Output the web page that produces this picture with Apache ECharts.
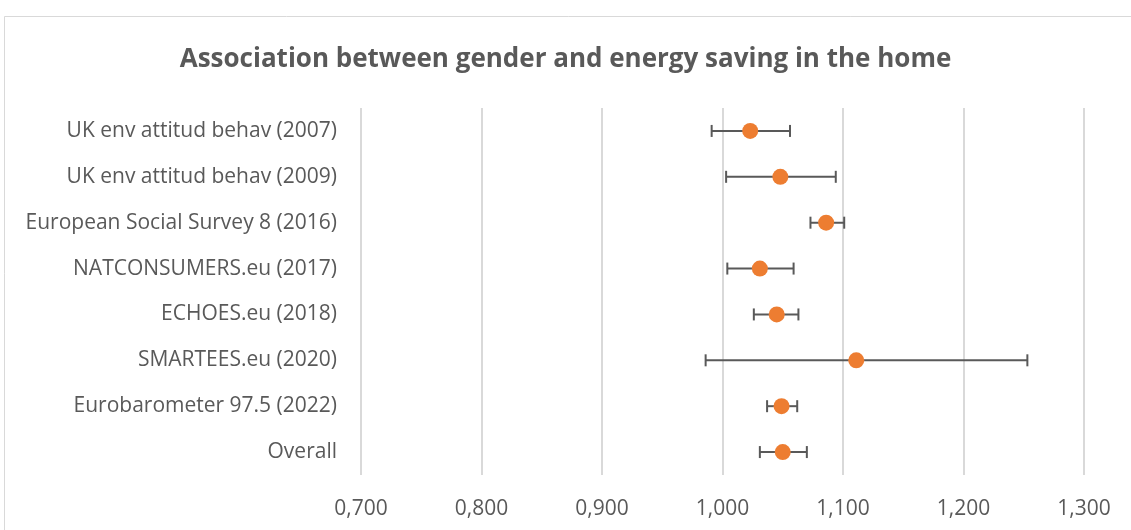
<!DOCTYPE html>
<html>
<head>
<meta charset="utf-8">
<script src="https://cdn.jsdelivr.net/npm/echarts@6/dist/echarts.min.js"></script>
<style>
html,body{margin:0;padding:0;background:#fff;}
#chart{width:1131px;height:530px;}
</style>
</head>
<body>
<div id="chart"></div>
<script>
const categories = [
  "UK env attitud behav (2007)",
  "UK env attitud behav (2009)",
  "European Social Survey 8 (2016)",
  "NATCONSUMERS.eu (2017)",
  "ECHOES.eu (2018)",
  "SMARTEES.eu (2020)",
  "Eurobarometer 97.5 (2022)",
  "Overall"
];
const estimates = [1.023, 1.048, 1.086, 1.031, 1.045, 1.111, 1.049, 1.050];
const lowerCI   = [0.991, 1.003, 1.073, 1.004, 1.026, 0.986, 1.037, 1.031];
const upperCI   = [1.056, 1.094, 1.101, 1.059, 1.063, 1.253, 1.062, 1.070];
const xTicks = [0.7, 0.8, 0.9, 1.0, 1.1, 1.2, 1.3];

const FONT = "'Open Sans', 'Noto Sans', sans-serif";
const TXT = '#595959';

const chart = echarts.init(document.getElementById('chart'), null, {renderer: 'canvas'});
const errData = categories.map((c, i) => [lowerCI[i], upperCI[i], i]);
const ptData = categories.map((c, i) => [estimates[i], i]);

chart.setOption({
  animation: false,
  backgroundColor: '#fff',
  graphic: [{
    type: 'rect', silent: true, z: -10,
    shape: {x: 4.5, y: 16.5, width: 1200, height: 600},
    style: {fill: '#fff', stroke: '#d9d9d9', lineWidth: 1}
  }],
  title: {
    text: 'Association between gender and energy saving in the home',
    left: 'center', top: 42,
    textStyle: {fontFamily: FONT, fontSize: 26, fontWeight: 'bold', color: TXT}
  },
  grid: {left: 361, right: 47, top: 108, bottom: 55, containLabel: false},
  xAxis: {
    type: 'value', min: xTicks[0], max: xTicks[xTicks.length - 1], interval: 0.1,
    axisLine: {show: false}, axisTick: {show: false},
    splitLine: {show: true, lineStyle: {color: '#d9d9d9', width: 2}},
    axisLabel: {
      margin: 24, color: TXT, fontFamily: FONT, fontSize: 21,
      formatter: v => v.toFixed(3).replace('.', ',')
    }
  },
  yAxis: {
    type: 'category', data: categories, inverse: true,
    axisLine: {show: false}, axisTick: {show: false}, splitLine: {show: false},
    axisLabel: {margin: 24, color: TXT, fontFamily: FONT, fontSize: 21, padding: [3, 0, 0, 0]}
  },
  series: [{
    type: 'custom',
    data: errData,
    encode: {x: [0, 1], y: 2},
    z: 2,
    renderItem: function (params, api) {
      const y = api.value(2);
      const p1 = api.coord([api.value(0), y]);
      const p2 = api.coord([api.value(1), y]);
      const h = 6;
      const st = {stroke: '#595959', lineWidth: 2};
      return {
        type: 'group',
        children: [
          {type: 'line', shape: {x1: p1[0], y1: p1[1], x2: p2[0], y2: p2[1]}, style: st},
          {type: 'line', shape: {x1: p1[0], y1: p1[1] - h, x2: p1[0], y2: p1[1] + h}, style: st},
          {type: 'line', shape: {x1: p2[0], y1: p2[1] - h, x2: p2[0], y2: p2[1] + h}, style: st}
        ]
      };
    }
  }, {
    type: 'scatter',
    data: ptData,
    symbol: 'circle', symbolSize: 16, z: 3,
    itemStyle: {color: '#ED7D31', opacity: 1}
  }]
});
</script>
</body>
</html>
